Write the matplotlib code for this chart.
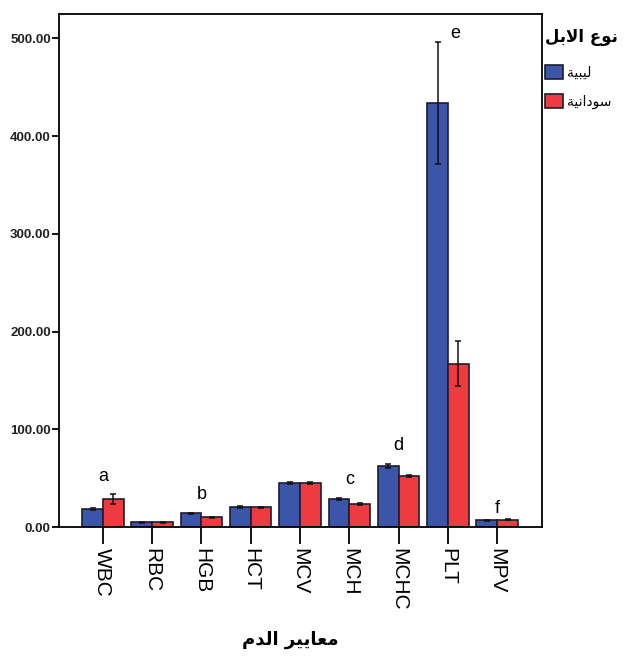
import numpy as np
import matplotlib
matplotlib.use('Agg')
import matplotlib.pyplot as plt
from matplotlib.ticker import FormatStrFormatter
from matplotlib.patches import Patch

params = ['WBC', 'RBC', 'HGB', 'HCT', 'MCV', 'MCH', 'MCHC', 'PLT', 'MPV']
libyan = [18.4, 5.0, 14.0, 20.5, 45.0, 29.0, 62.5, 434.0, 7.0]
libyan_err = [1.0, 0.4, 0.6, 0.8, 0.6, 1.0, 2.0, 62.0, 0.5]
sudanese = [28.5, 5.0, 10.0, 20.0, 45.0, 23.5, 52.0, 167.0, 7.5]
sudanese_err = [5.0, 0.4, 0.6, 0.6, 0.6, 0.7, 1.2, 23.0, 0.4]
letters = ['a', '', 'b', '', '', 'c', 'd', 'e', 'f']

# arabic text written in visual order with presentation forms (no shaping engine)
xlabel_ar = '\ufee1\ufeaa\ufedf\ufe8d \ufeae\ufef4\ufef3\ufe8e\ufecc\ufee3'   # معايير الدم
legend_title = '\ufede\ufe91\ufefb\ufe8d \ufec9\ufeee\ufee7'               # نوع الابل
label_libyan = '\ufe94\ufef4\ufe92\ufef4\ufedf'                            # ليبية
label_sudanese = '\ufe94\ufef4\ufee7\ufe8d\ufea9\ufeee\ufeb3'              # سودانية

blue = '#3b55a8'
red = '#ee3b40'
edge = '#1c1c30'

fig = plt.figure(figsize=(6.24, 6.63), dpi=100)
ax = fig.add_axes([0.0946, 0.2051, 0.774, 0.7738])

x = np.arange(len(params))
w = 0.42
ax.bar(x - w / 2, libyan, w, color=blue, edgecolor=edge, linewidth=1.2, zorder=2)
ax.bar(x + w / 2, sudanese, w, color=red, edgecolor=edge, linewidth=1.2, zorder=2)
ax.errorbar(x - w / 2, libyan, yerr=libyan_err, fmt='none', ecolor='#111111',
            elinewidth=1.1, capsize=2.2, capthick=1.1, zorder=3)
ax.errorbar(x + w / 2, sudanese, yerr=sudanese_err, fmt='none', ecolor='#111111',
            elinewidth=1.1, capsize=2.2, capthick=1.1, zorder=3)

# significance letters
for i, let in enumerate(letters):
    if not let:
        continue
    top = max(libyan[i] + libyan_err[i], sudanese[i] + sudanese_err[i])
    dx, dy = 0, 7
    if let == 'e':
        dx, dy = 5, 0
    elif let == 'f':
        dy = 2
    ax.annotate(let, (x[i], top), xytext=(dx, dy), textcoords='offset points',
                ha='center', va='bottom', fontsize=13, family='Liberation Sans')

ax.set_xlim(-0.89, 8.91)
ax.set_ylim(0, 525)
ax.set_yticks([0, 100, 200, 300, 400, 500])
ax.yaxis.set_major_formatter(FormatStrFormatter('%.2f'))
ax.set_xticks(x)
ax.set_xticklabels(params, rotation=270, fontsize=15, family='Liberation Sans')
ax.tick_params(axis='x', length=12, width=1.3, pad=3)
ax.tick_params(axis='y', length=5, width=1.3, labelsize=9.5, pad=1)
for lab in ax.get_yticklabels():
    lab.set_family('Liberation Sans')
    lab.set_fontweight('bold')
    lab.set_color('#222222')
for s in ax.spines.values():
    s.set_linewidth(1.3)

fig.text(0.466, 0.035, xlabel_ar, ha='center', va='center', fontsize=13,
         fontweight='bold', family='DejaVu Sans')

handles = [Patch(facecolor=blue, edgecolor=edge, linewidth=1.2),
           Patch(facecolor=red, edgecolor=edge, linewidth=1.2)]
leg = fig.legend(handles, [label_libyan, label_sudanese], title=legend_title,
                 loc='upper left', bbox_to_anchor=(0.874, 0.958), frameon=False,
                 prop={'family': 'DejaVu Sans', 'size': 10},
                 handlelength=1.3, handleheight=1.15, handletextpad=0.25,
                 borderpad=0, borderaxespad=0, labelspacing=1.0)
leg.get_title().set_fontsize(12)
leg.get_title().set_fontweight('bold')
leg.get_title().set_family('DejaVu Sans')
leg._legend_box.align = 'left'
leg._legend_box.sep = 14

fig.savefig('out.png', dpi=100)
